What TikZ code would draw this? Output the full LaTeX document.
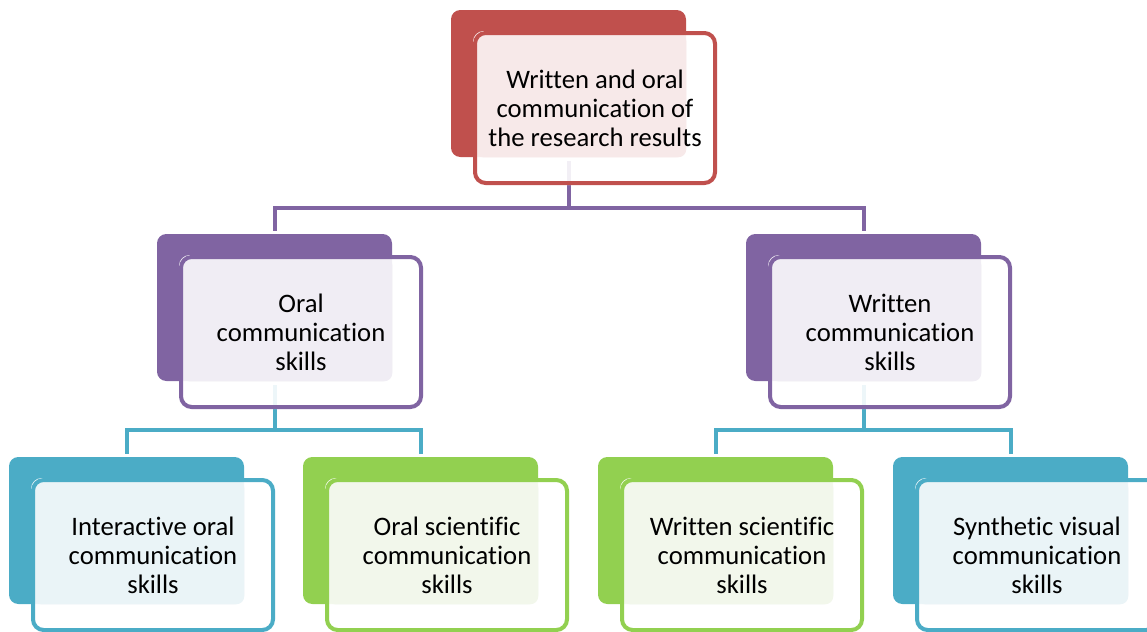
\documentclass[tikz,border=0pt]{standalone}
\usepackage{fontspec}
\setmainfont[Ligatures=NoCommon]{Carlito}
\usepackage{xcolor}
\usetikzlibrary{positioning, calc, backgrounds}
\definecolor{redfill}{HTML}{C0504D}
\definecolor{redtint}{HTML}{F7E9E9}
\definecolor{purfill}{HTML}{8064A2}
\definecolor{purtint}{HTML}{F0EDF4}
\definecolor{tealfill}{HTML}{4BACC6}
\definecolor{tealtint}{HTML}{EAF4F7}
\definecolor{grnfill}{HTML}{92D050}
\definecolor{grntint}{HTML}{F2F7EB}
\pgfdeclarelayer{links}
\pgfdeclarelayer{cards}
\pgfsetlayers{links,cards,main}
\tikzset{
  backcard/.style={rectangle, rounded corners=7pt, fill=#1, inner sep=0pt, minimum width=176.25pt, minimum height=110.25pt},
  frontcard/.style={rectangle, rounded corners=8pt, draw=#1, line width=3pt, inner sep=0pt, minimum width=180pt, minimum height=112.5pt, align=center, font=\fontsize{20pt}{21.75pt}\selectfont},
  link/.style={draw=#1, line width=3pt, line join=miter, shorten >=2pt},
}

\begin{document}
\begin{tikzpicture}[x=0.75pt, y=-0.75pt]
  \useasboundingbox (0,0) rectangle (1147,632);
  % back cards
  \begin{pgfonlayer}{cards}
    \node[backcard=redfill] (rootb) at (568.5,83.5) {};
    \node[backcard=purfill] (oralb) at (274.5,307.5) {};
    \node[backcard=purfill] (writb) at (863.5,307.5) {};
    \node[backcard=tealfill] (interb) at (126.5,530.5) {};
    \node[backcard=grnfill] (oscib) at (420.5,530.5) {};
    \node[backcard=grnfill] (wscib) at (715.5,530.5) {};
    \node[backcard=tealfill] (synb) at (1010.5,530.5) {};
  \end{pgfonlayer}
  % front cards with the texts
  \node[frontcard=redfill] (rootf) at ($(rootb)+(26.5,24.5)$) {Written and oral\\communication of\\the research results};
  \node[frontcard=purfill] (oralf) at ($(oralb)+(26.5,24.5)$) {Oral\\communication\\skills};
  \node[frontcard=purfill] (writf) at ($(writb)+(26.5,24.5)$) {Written\\communication\\skills};
  \node[frontcard=tealfill] (interf) at ($(interb)+(26.5,24.5)$) {Interactive oral\\communication\\skills};
  \node[frontcard=grnfill] (oscif) at ($(oscib)+(26.5,24.5)$) {Oral scientific\\communication\\skills};
  \node[frontcard=grnfill] (wscif) at ($(wscib)+(26.5,24.5)$) {Written scientific\\communication\\skills};
  \node[frontcard=tealfill] (synf) at ($(synb)+(26.5,24.5)$) {Synthetic visual\\communication\\skills};
  % white face and tinted text area
  \begin{pgfonlayer}{cards}
    \foreach \n/\c in {root/red, oral/pur, writ/pur, inter/teal, osci/grn, wsci/grn, syn/teal} {
      \fill[white, fill opacity=0.9, rounded corners=8pt] (\n f.north west) rectangle (\n f.south east);
      \fill[\c tint, rounded corners=6pt] ($(\n f.north west)+(2,2)$) rectangle (\n b.south east);
    }
  \end{pgfonlayer}
  % connectors
  \begin{pgfonlayer}{links}
    \coordinate (rootj) at ($(rootb.south)+(0,51)$);
    \coordinate (oralj) at ($(oralb.south)+(0,49)$);
    \coordinate (writj) at ($(writb.south)+(0,49)$);
    \draw[link=purfill, shorten <=3pt] (rootb.south) -- (rootj) -| (oralb.north);
    \draw[link=purfill] (rootj) -| (writb.north);
    \draw[link=tealfill, shorten <=3pt] (oralb.south) -- (oralj) -| (interb.north);
    \draw[link=tealfill] (oralj) -| (oscib.north);
    \draw[link=tealfill, shorten <=3pt] (writb.south) -- (writj) -| (wscib.north);
    \draw[link=tealfill] (writj) -| (synb.north);
  \end{pgfonlayer}
\end{tikzpicture}
\end{document}
